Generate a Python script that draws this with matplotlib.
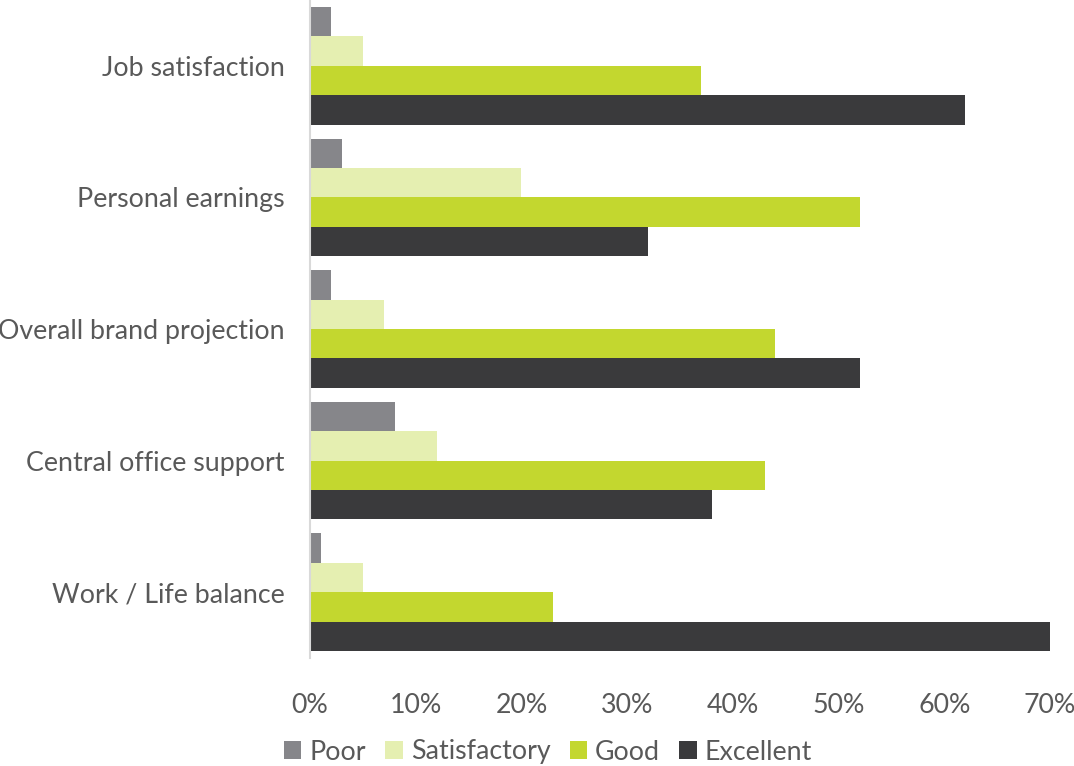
import matplotlib
matplotlib.use("Agg")
import matplotlib.pyplot as plt
import numpy as np

categories = ["Job satisfaction", "Personal earnings", "Overall brand projection",
              "Central office support", "Work / Life balance"]
series_names = ["Poor", "Satisfactory", "Good", "Excellent"]
poor = [2, 3, 2, 8, 1]
satisfactory = [5, 20, 7, 12, 5]
good = [37, 52, 44, 43, 23]
excellent = [62, 32, 52, 38, 70]
colors = ["#86868a", "#e5efb1", "#c3d72f", "#3a3a3c"]
xticks = [0, 10, 20, 30, 40, 50, 60, 70]

plt.rcParams['font.family'] = ['Lato', 'DejaVu Sans']
text_color = "#595959"
fs = 19.3

fig = plt.figure(figsize=(10.74, 7.66), dpi=100)
ax = fig.add_axes([310/1074, 1 - 658/766, 740/1074, 658/766])

n = len(categories)
y = np.arange(n)
h = 0.2235
data = [poor, satisfactory, good, excellent]
for i, (name, vals, c) in enumerate(zip(series_names, data, colors)):
    ax.barh(y - 1.5*h + i*h, vals, height=h, color=c, label=name, linewidth=0)

ax.set_ylim(n - 0.5, -0.5)
ax.set_xlim(0, 70)
ax.set_yticks(y)
ax.set_yticklabels(categories, fontsize=fs, color=text_color)
ax.set_xticks(xticks)
ax.set_xticklabels([f"{t}%" for t in xticks], fontsize=fs, color=text_color)
ax.tick_params(axis='both', length=0)
ax.tick_params(axis='y', pad=18)
ax.tick_params(axis='x', pad=25)
for s in ["top", "right", "bottom"]:
    ax.spines[s].set_visible(False)
ax.spines["left"].set_color("#d9d9d9")
ax.spines["left"].set_linewidth(1.5)

handles, labels = ax.get_legend_handles_labels()
fig.legend(handles, labels, loc="center", bbox_to_anchor=(548/1074, 1 - 752/766),
           ncol=4, frameon=False, fontsize=fs, labelcolor=text_color,
           handlelength=0.65, handleheight=0.65, handletextpad=0.3, columnspacing=0.72)

fig.savefig("out.png", dpi=100)
